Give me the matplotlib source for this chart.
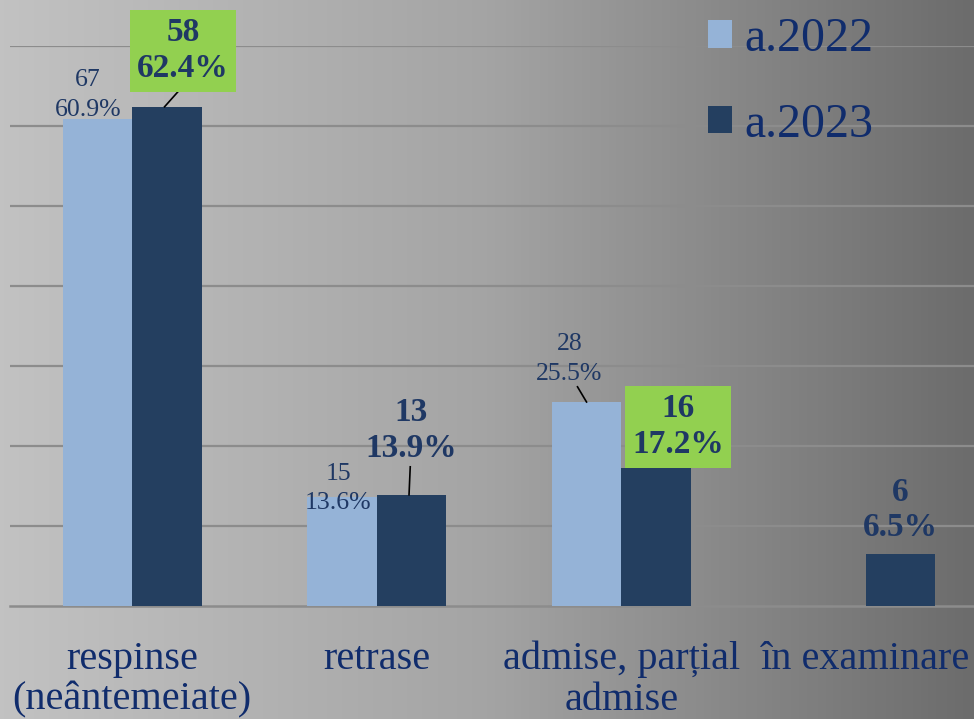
import numpy as np
import matplotlib.pyplot as plt
from matplotlib.colors import LinearSegmentedColormap

categories = ['respinse\n(neântemeiate)', 'retrase', 'admise, parțial\nadmise', 'în examinare']
counts_2022 = [67, 15, 28, 0]
pct_2022 = [60.9, 13.6, 25.5, 0.0]
counts_2023 = [58, 13, 16, 6]
pct_2023 = [62.4, 13.9, 17.2, 6.5]
series_names = ['a.2022', 'a.2023']

light = '#95B3D7'
dark = '#243F60'
label_col = '#1F3864'
text_col = '#102C6C'
green = '#92D050'

W, H = 974, 719
fig = plt.figure(figsize=(W / 100, H / 100), dpi=100)

# background gradient, light on the left, darker to the right
bg = fig.add_axes([0, 0, 1, 1], zorder=-1)
cmap = LinearSegmentedColormap.from_list('bg', [(0, '#c2c2c2'), (0.5, '#a4a4a4'), (1, '#6c6c6c')])
bg.imshow(np.linspace(0, 1, 256)[None, :], aspect='auto', cmap=cmap, extent=[0, 1, 0, 1])
bg.axis('off')

# plot area in pixel terms: x -0.5 at 10px, 3.5 at ~988px; y 0 at 606px, 70 at 46px
ax = fig.add_axes([10 / W, (H - 606) / H, 978 / W, 560 / H])
ax.patch.set_alpha(0)
ax.set_xlim(-0.5, 3.5)
ax.set_ylim(0, 70)

x = np.arange(len(categories))
bw = 0.284
ax.bar(x - bw / 2, pct_2022, bw, color=light, label=series_names[0], zorder=3)
ax.bar(x + bw / 2, pct_2023, bw, color=dark, label=series_names[1], zorder=3)

ax.set_yticks(np.arange(10, 71, 10))
ax.yaxis.grid(True, color='#8c8c8c', linewidth=1.6)
ax.tick_params(axis='y', left=False, labelleft=False)
for s in ['top', 'right', 'left']:
    ax.spines[s].set_visible(False)
ax.spines['bottom'].set_color('#8c8c8c')
ax.spines['bottom'].set_linewidth(1.8)
ax.set_axisbelow(True)

ax.set_xticks(x)
ax.set_xticklabels(categories, fontsize=29, color=text_col, family='Liberation Serif', linespacing=1.13)
ax.tick_params(axis='x', length=0, pad=25)

# data labels (offsets in axis units from bar top)
off_2022 = [(-0.04, 3.0), (-0.015, 1.1), (-0.07, 5.4), None]
off_2023 = [(0.065, 7.0), (0.0, 8.0), (0.091, 5.2), (0.0, 5.5)]
lead_2022 = [False, False, True, False]
lead_2023 = [True, True, False, False]
boxed = [True, False, True, False]

for i in range(len(categories)):
    if off_2022[i] is not None:
        xb = x[i] - bw / 2
        dx, dy = off_2022[i]
        tx, ty = xb + dx, pct_2022[i] + dy
        ax.text(tx, ty, f'{counts_2022[i]}\n{pct_2022[i]:.1f}%', ha='center', va='center',
                fontsize=18.5, color=label_col, family='Liberation Serif', linespacing=1.45, zorder=5)
        if lead_2022[i]:
            ax.plot([xb, xb - 0.037], [pct_2022[i], pct_2022[i] + 1.9], color='black', lw=1.2, zorder=4)
    xb = x[i] + bw / 2
    dx, dy = off_2023[i]
    tx, ty = xb + dx, pct_2023[i] + dy
    bbox = dict(boxstyle='square,pad=0.22', fc=green, ec='none') if boxed[i] else None
    ax.text(tx, ty, f'{counts_2023[i]}\n{pct_2023[i]:.1f}%', ha='center', va='center',
            fontsize=24, fontweight='bold', color=label_col, family='Liberation Serif',
            linespacing=1.2, bbox=bbox, zorder=5, clip_on=False)
    if lead_2023[i]:
        top = 2.4 if i == 0 else 3.5
        ax.plot([xb - 0.01, xb + 0.06 if i == 0 else xb - 0.005],
                [pct_2023[i], pct_2023[i] + top], color='black', lw=1.2, zorder=4)

leg = ax.legend(loc='upper left', bbox_to_anchor=(689 / W, 1.003), bbox_transform=fig.transFigure,
                frameon=False, handlelength=0.5, handleheight=0.5, handletextpad=0.25,
                labelspacing=0.87, borderaxespad=0.0,
                prop={'family': 'Liberation Serif', 'size': 34.5})
for t in leg.get_texts():
    t.set_color(text_col)

fig.savefig('out.png', dpi=100)
